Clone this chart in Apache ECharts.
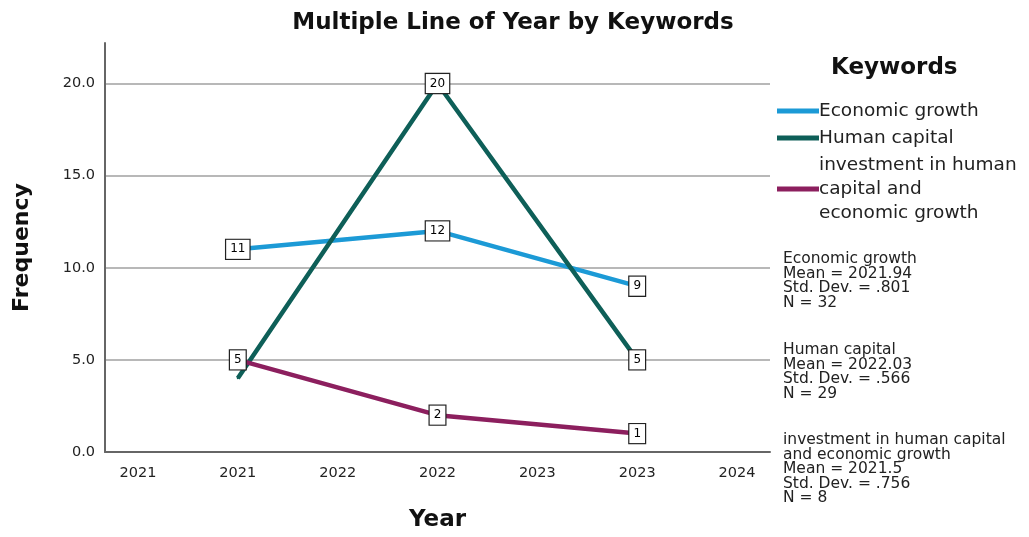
<!DOCTYPE html>
<html>
<head>
<meta charset="utf-8">
<script src="https://cdn.jsdelivr.net/npm/echarts@6/dist/echarts.min.js"></script>
<style>
  html, body { margin: 0; padding: 0; background: #fff; }
  #main { width: 1029px; height: 537px; }
</style>
</head>
<body>
<div id="main"></div>
<script>
var years = [2021, 2022, 2023];
var economicGrowth = [11, 12, 9];
var humanCapital = [4, 20, 5];
var investment = [5, 2, 1];
var xTickValues = [2020.5, 2021, 2021.5, 2022, 2022.5, 2023, 2023.5];
var seriesNames = ['Economic growth', 'Human capital', 'investment in human\ncapital and\neconomic growth'];
var statsText = [
  'Economic growth\nMean = 2021.94\nStd. Dev. = .801\nN = 32',
  'Human capital\nMean = 2022.03\nStd. Dev. = .566\nN = 29',
  'investment in human capital\nand economic growth\nMean = 2021.5\nStd. Dev. = .756\nN = 8'
];
var colors = ['#1c9ad6', '#0e5f58', '#8c1f5e'];
var FONT = 'DejaVu Sans';

function pairs(vals) {
  return vals.map(function (v, i) { return [years[i], v]; });
}

var labelStyle = {
  show: true,
  position: 'inside',
  fontFamily: FONT,
  fontSize: 12,
  color: '#000',
  backgroundColor: '#fff',
  borderColor: '#222',
  borderWidth: 1.2,
  padding: [4, 4, 3, 4]
};

function makeSeries(idx, vals, hideIdx) {
  var data = pairs(vals).map(function (p, i) {
    var d = { value: p };
    if (i === hideIdx) d.label = { show: false };
    return d;
  });
  return {
    name: seriesNames[idx],
    type: 'line',
    data: data,
    symbol: 'circle',
    symbolSize: 2,
    showSymbol: true,
    lineStyle: { color: colors[idx], width: 4.5 },
    itemStyle: { color: colors[idx] },
    label: labelStyle,
    z: 2 + idx,
    animation: false
  };
}

var chart = echarts.init(document.getElementById('main'));
chart.setOption({
  backgroundColor: '#fff',
  textStyle: { fontFamily: FONT },
  title: {
    text: 'Multiple Line of Year by Keywords',
    left: 508,
    textAlign: 'center',
    top: 7,
    textStyle: { fontSize: 23, fontWeight: 'bold', color: '#111', fontFamily: FONT }
  },
  grid: { left: 105, right: 259, top: 43, bottom: 84 },
  legend: {
    orient: 'vertical',
    left: 772,
    top: 94,
    icon: 'rect',
    itemWidth: 42,
    itemHeight: 5,
    itemGap: 3,
    data: seriesNames,
    textStyle: { fontSize: 18.5, color: '#222', fontFamily: FONT, lineHeight: 24, padding: [0, 0, 0, -5] }
  },
  xAxis: {
    type: 'value',
    min: 2020.335,
    max: 2023.665,
    name: 'Year',
    nameLocation: 'middle',
    nameGap: 57,
    nameTextStyle: { fontSize: 23, fontWeight: 'bold', color: '#111', fontFamily: FONT },
    axisLine: { show: true, lineStyle: { color: '#666', width: 2 } },
    axisTick: { show: false },
    splitLine: { show: false },
    axisLabel: {
      customValues: xTickValues,
      formatter: function (v) { return String(Math.round(v)); },
      fontSize: 14.5,
      color: '#222',
      fontFamily: FONT,
      margin: 14
    }
  },
  yAxis: {
    type: 'value',
    min: 0,
    max: 22.2,
    interval: 5,
    name: 'Frequency',
    nameLocation: 'middle',
    nameGap: 72,
    nameTextStyle: { fontSize: 22, fontWeight: 'bold', color: '#111', fontFamily: FONT },
    axisLine: { show: true, lineStyle: { color: '#666', width: 2 } },
    axisTick: { show: false },
    splitLine: { show: true, showMaxLine: false, lineStyle: { color: '#b8b8b8', width: 2 } },
    axisLabel: {
      formatter: function (v) { return v.toFixed(1); },
      fontSize: 14.5,
      color: '#222',
      fontFamily: FONT,
      margin: 10,
      showMaxLabel: false
    }
  },
  graphic: [
    {
      type: 'text', left: 831, top: 57,
      style: { text: 'Keywords', font: 'bold 23px "DejaVu Sans"', fill: '#111' }
    },
    {
      type: 'text', left: 783, top: 251,
      style: { text: statsText[0], font: '15.5px "DejaVu Sans"', fill: '#222', lineHeight: 14.5 }
    },
    {
      type: 'text', left: 783, top: 342,
      style: { text: statsText[1], font: '15.5px "DejaVu Sans"', fill: '#222', lineHeight: 14.5 }
    },
    {
      type: 'text', left: 783, top: 432,
      style: { text: statsText[2], font: '15.5px "DejaVu Sans"', fill: '#222', lineHeight: 14.5 }
    }
  ],
  series: [
    makeSeries(0, economicGrowth, -1),
    makeSeries(2, investment, -1),
    makeSeries(1, humanCapital, 0)
  ]
});
</script>
</body>
</html>
